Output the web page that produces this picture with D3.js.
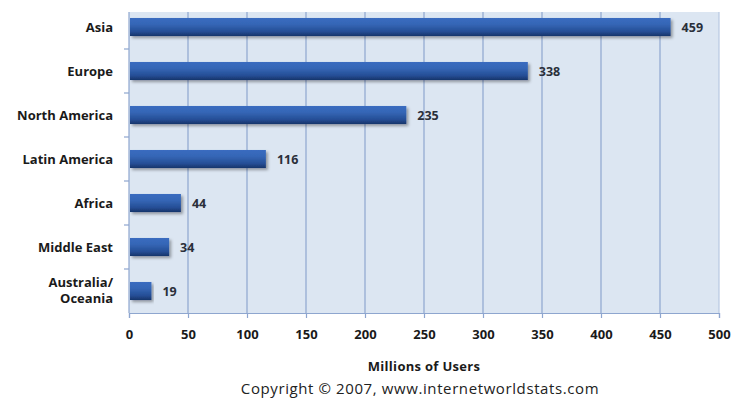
<!DOCTYPE html>
<html>
<head>
<meta charset="utf-8">
<script src="https://d3js.org/d3.v7.min.js"></script>
<style>
  body { margin: 0; background: #fff; }
  svg { display: block; font-family: "Open Sans", Lato, sans-serif; }
</style>
</head>
<body>
<div id="chart"></div>
<script>
var regions = ["Asia", "Europe", "North America", "Latin America", "Africa", "Middle East", "Australia/Oceania"];
var users = [459, 338, 235, 116, 44, 34, 19];
var xTicks = [0, 50, 100, 150, 200, 250, 300, 350, 400, 450, 500];

var width = 734, height = 400;
// plot box (note: "top" is reserved on window, so use plot* names)
var plotLeft = 129, plotRight = 719, plotTop = 5, plotBottom = 313, bgTop = 12;

var svg = d3.select("#chart").append("svg")
  .attr("width", width)
  .attr("height", height);

var defs = svg.append("defs");
var grad = defs.append("linearGradient")
  .attr("id", "barGrad")
  .attr("x1", 0).attr("y1", 0).attr("x2", 0).attr("y2", 1);
grad.append("stop").attr("offset", "0%").attr("stop-color", "#3a6cc0");
grad.append("stop").attr("offset", "35%").attr("stop-color", "#3566b6");
grad.append("stop").attr("offset", "75%").attr("stop-color", "#264e96");
grad.append("stop").attr("offset", "100%").attr("stop-color", "#17346a");

var shadow = defs.append("filter").attr("id", "shadow")
  .attr("x", "-5%").attr("y", "-20%").attr("width", "115%").attr("height", "160%");
shadow.append("feDropShadow")
  .attr("dx", 2).attr("dy", 2).attr("stdDeviation", 1.5)
  .attr("flood-color", "#000").attr("flood-opacity", 0.35);

var x = d3.scaleLinear().domain([0, 500]).range([plotLeft, plotRight]);
var y = d3.scaleBand().domain(regions).range([plotTop, plotBottom]).paddingInner(0.59).paddingOuter(0.295);

// plot background
svg.append("rect")
  .attr("x", plotLeft).attr("y", bgTop)
  .attr("width", plotRight - plotLeft).attr("height", plotBottom - bgTop)
  .attr("fill", "#dce6f2");

// gridlines
svg.append("g").selectAll("line")
  .data(xTicks.slice(1))
  .join("line")
  .attr("x1", d => x(d)).attr("x2", d => x(d))
  .attr("y1", bgTop).attr("y2", plotBottom)
  .attr("stroke", d => d == 500 ? "#b7c8e2" : "#8ea6cf")
  .attr("stroke-width", 1.2);

// y axis line and category ticks
svg.append("line")
  .attr("x1", plotLeft).attr("x2", plotLeft)
  .attr("y1", bgTop).attr("y2", plotBottom)
  .attr("stroke", "#8ea6cf").attr("stroke-width", 1.2);

var step = y.step();
svg.append("g").selectAll("line")
  .data(d3.range(1, regions.length))
  .join("line")
  .attr("x1", plotLeft - 5).attr("x2", plotLeft)
  .attr("y1", i => plotTop + i * step).attr("y2", i => plotTop + i * step)
  .attr("stroke", "#8ea6cf").attr("stroke-width", 1.2);

// x axis
var xAxis = svg.append("g")
  .attr("transform", "translate(0," + plotBottom + ")")
  .call(d3.axisBottom(x).tickValues(xTicks).tickSize(5).tickPadding(12));
xAxis.select(".domain").attr("stroke", "#8ea6cf").attr("stroke-width", 1.2);
xAxis.selectAll(".tick line").attr("stroke", "#8ea6cf").attr("stroke-width", 1.2);
xAxis.selectAll(".tick text")
  .attr("fill", "#1a1a1a")
  .style("font-size", "13px")
  .style("font-weight", "bold")
  .style("font-family", "'Open Sans', Lato, sans-serif");

// bars
svg.append("g").selectAll("rect")
  .data(users)
  .join("rect")
  .attr("x", x(0) + 1)
  .attr("y", (d, i) => y(regions[i]))
  .attr("width", d => x(d) - x(0) - 1)
  .attr("height", y.bandwidth())
  .attr("fill", "url(#barGrad)")
  .attr("filter", "url(#shadow)");

// value labels
svg.append("g").selectAll("text")
  .data(users)
  .join("text")
  .attr("x", d => x(d) + 11)
  .attr("y", (d, i) => y(regions[i]) + y.bandwidth() / 2)
  .attr("dy", "0.36em")
  .attr("fill", "#2a2f3a")
  .style("font-size", "12.5px")
  .style("font-weight", "bold")
  .text(d => d);

// category labels
var catLabels = svg.append("g").selectAll("text")
  .data(regions)
  .join("text")
  .attr("x", 113)
  .attr("y", d => y(d) + y.bandwidth() / 2)
  .attr("text-anchor", "end")
  .attr("fill", "#1a1a1a")
  .style("font-size", "13px")
  .style("font-weight", "bold");

catLabels.each(function(d) {
  var t = d3.select(this);
  if (d.indexOf("/") > -1) {
    // two-line label, like the original
    var parts = d.split("/");
    t.append("tspan").attr("x", 113).attr("dy", "-0.3em").text(parts[0] + "/");
    t.append("tspan").attr("x", 113).attr("dy", "1.25em").text(parts[1]);
  } else {
    t.attr("dy", "0.36em").text(d);
  }
});

// axis title and source
svg.append("text")
  .attr("x", 424).attr("y", 371)
  .attr("text-anchor", "middle")
  .attr("fill", "#1a1a1a")
  .style("font-size", "13px")
  .style("font-weight", "bold")
  .style("letter-spacing", "0.3px")
  .text("Millions of Users");

svg.append("text")
  .attr("x", 420).attr("y", 394)
  .attr("text-anchor", "middle")
  .attr("fill", "#222")
  .style("font-size", "15px")
  .style("letter-spacing", "0.6px")
  .text("Copyright \u00a9 2007, www.internetworldstats.com");
</script>
</body>
</html>
